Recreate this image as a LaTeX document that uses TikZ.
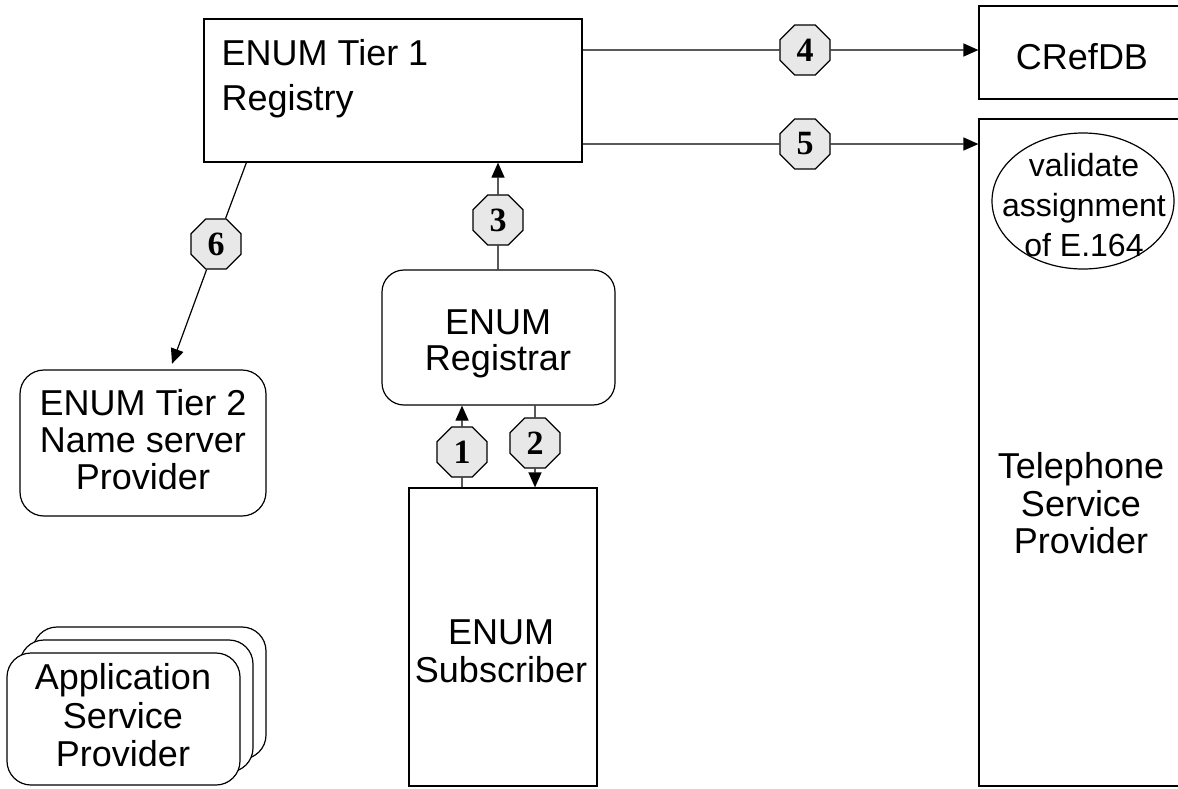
\documentclass[tikz,border=0pt]{standalone}
\usepackage{fontspec}
\setmainfont{Liberation Sans}
\newfontfamily\numfont{Liberation Serif}
\usetikzlibrary{shapes.geometric,arrows.meta}
\begin{document}
\begin{tikzpicture}[x=1pt,y=-1pt,line width=1.2pt,
  box/.style={draw,rectangle,inner sep=0pt,fill=white},
  rbox/.style={box,rounded corners=24pt},
  lbl/.style={align=center,inner sep=0pt,anchor=north,font=\fontsize{36}{38}\selectfont},
  oct/.style={draw,regular polygon,regular polygon sides=8,minimum size=54pt,inner sep=0pt,
    fill=gray!18,font=\numfont\bfseries\fontsize{34}{34}\selectfont},
  arr/.style={-{Triangle[length=15pt,width=13pt]}}]
\useasboundingbox (0,0) rectangle (1178,788);
\clip (0,0) rectangle (1178,788);
% boxes
\node[box,minimum width=378pt,minimum height=143pt] (tier1) at (393,90.5) {};
\node[lbl,align=left,anchor=north west,font=\fontsize{36}{45}\selectfont] (tier1txt) at (221,39) {ENUM Tier 1\\Registry};
\node[box,minimum width=221pt,minimum height=93pt] (cref) at (1089.5,52.5) {};
\node[lbl,anchor=center] (creftxt) at (1082,57) {CRefDB};
\node[box,minimum width=221pt,minimum height=667pt] (tel) at (1089.5,452.5) {};
\node[lbl,font=\fontsize{36}{37.5}\selectfont] (teltxt) at (1081,452) {Telephone\\Service\\Provider};
\node[draw,ellipse,minimum width=182pt,minimum height=136pt,inner sep=0pt] (valid) at (1083,201) {};
\node[lbl,font=\fontsize{32}{40}\selectfont] (validtxt) at (1084,153) {validate\\assignment\\of E.164};
\node[rbox,rounded corners=22pt,minimum width=233pt,minimum height=135pt] (registrar) at (498.5,337.5) {};
\node[lbl,font=\fontsize{36}{36}\selectfont] (registrartxt) at (498,309) {ENUM\\Registrar};
\node[box,minimum width=188pt,minimum height=298pt] (subscriber) at (503,637) {};
\node[lbl] (subscribertxt) at (501,619) {ENUM\\Subscriber};
\node[rbox,minimum width=246pt,minimum height=146pt] (tier2) at (143,443) {};
\node[lbl,font=\fontsize{36}{37}\selectfont] (tier2txt) at (143,389) {ENUM Tier 2\\Name server\\Provider};
% application service provider stack
\node[rbox,minimum width=233pt,minimum height=132pt] (app3) at (149.5,693) {};
\node[rbox,minimum width=233pt,minimum height=132pt] (app2) at (136.5,706) {};
\node[rbox,minimum width=233pt,minimum height=132pt] (app1) at (123.5,719) {};
\node[lbl,font=\fontsize{36}{38.5}\selectfont] (apptxt) at (123,663) {Application\\Service\\Provider};
% step markers
\node[oct] (o1) at (462,452) {1};
\node[oct] (o2) at (535,443) {2};
\node[oct] (o3) at (498,220) {3};
\node[oct] (o4) at (805,50) {4};
\node[oct] (o5) at (805,144) {5};
\node[oct] (o6) at (216,244) {6};
\coordinate (c6) at ([xshift=43pt]tier1.south west);
% connectors
\draw (tier1.east |- o4) -- (o4.west);
\draw[arr] (o4.east) -- (cref.west |- o4);
\draw (tier1.east |- o5) -- (o5.west);
\draw[arr] (o5.east) -- (tel.west |- o5);
\draw (registrar.north -| o3) -- (o3.south);
\draw[arr] (o3.north) -- (tier1.south -| o3);
\draw (subscriber.north -| o1) -- (o1.south);
\draw[arr] (o1.north) -- (registrar.south -| o1);
\draw (registrar.south -| o2) -- (o2.north);
\draw[arr] (o2.south) -- (subscriber.north -| o2);
\draw (c6) -- (o6);
\draw[arr,shorten >=6pt] (o6) -- (tier2);
\end{tikzpicture}
\end{document}
